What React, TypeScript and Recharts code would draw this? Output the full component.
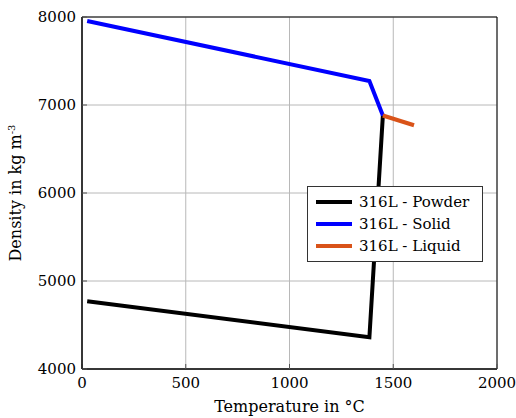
import { LineChart, Line, XAxis, YAxis, CartesianGrid, Legend, ReferenceArea } from "recharts";

// ── Density of 316L vs temperature ────────────────────────────────
const powderT = [25, 1385, 1450];
const powderRho = [4770, 4360, 6881];

const solidT = [25, 1385, 1450];
const solidRho = [7955, 7273, 6881];

const liquidT = [1450, 1600];
const liquidRho = [6881, 6770];

const seriesNames = ["316L - Powder", "316L - Solid", "316L - Liquid"];
const seriesColors = ["#000000", "#0000ff", "#d95319"];

const xTicks = [0, 500, 1000, 1500, 2000];
const yTicks = [4000, 5000, 6000, 7000, 8000];

const toRows = (t: number[], rho: number[]) => t.map((v, i) => ({ t: v, rho: rho[i] }));

const FONT = "'DejaVu Serif', serif";
const GRID = "#b8b8b8";

// legend keeps plot order (Recharts sorts by name otherwise)
const LegendBox = () => (
  <div
    style={{
      border: "1px solid #333",
      background: "#fff",
      padding: "4px 8px",
      fontFamily: FONT,
      fontSize: 15,
      lineHeight: "22px",
      width: 158,
    }}
  >
    {seriesNames.map((name, i) => (
      <div key={name} style={{ display: "flex", alignItems: "center" }}>
        <span style={{ display: "inline-block", width: 36, height: 4, background: seriesColors[i], marginRight: 7 }} />
        {name}
      </div>
    ))}
  </div>
);

export default function App() {
  return (
    <div style={{ position: "absolute", left: 0, top: 0, background: "#fff" }}>
      <LineChart width={516} height={418} margin={{ top: 17, right: 19, bottom: 0, left: 0 }}>
        <CartesianGrid stroke={GRID} strokeWidth={1} />
        <ReferenceArea x1={0} x2={2000} y1={4000} y2={8000} fill="none" stroke="#000" strokeWidth={1} />
        <XAxis
          type="number"
          dataKey="t"
          domain={[0, 2000]}
          ticks={xTicks}
          height={49}
          allowDataOverflow
          axisLine={{ stroke: "#000" }}
          tickLine={{ stroke: "#555" }}
          tickSize={-5}
          tickMargin={13}
          tick={{ fill: "#000", fontFamily: FONT, fontSize: 15 }}
          label={{
            content: ({ viewBox }: any) => (
              <text
                x={viewBox.x + viewBox.width / 2}
                y={viewBox.y + 43}
                textAnchor="middle"
                fontFamily={FONT}
                fontSize={16}
                fill="#000"
              >
                Temperature in °C
              </text>
            ),
          }}
        />
        <XAxis
          xAxisId="top"
          orientation="top"
          type="number"
          domain={[0, 2000]}
          ticks={xTicks}
          height={0}
          axisLine={{ stroke: "#000" }}
          tickLine={{ stroke: "#555" }}
          tickSize={-5}
          tickFormatter={() => ""}
        />
        <YAxis
          type="number"
          domain={[4000, 8000]}
          ticks={yTicks}
          width={82}
          allowDataOverflow
          axisLine={{ stroke: "#000" }}
          tickLine={{ stroke: "#555" }}
          tickSize={-5}
          tickMargin={11}
          tick={{ fill: "#000", fontFamily: FONT, fontSize: 15 }}
          label={{
            content: ({ viewBox }: any) => {
              const cx = viewBox.x + 21;
              const cy = viewBox.y + viewBox.height / 2;
              return (
                <text
                  x={cx}
                  y={cy}
                  transform={`rotate(-90 ${cx} ${cy})`}
                  textAnchor="middle"
                  fontFamily={FONT}
                  fontSize={16}
                  fill="#000"
                >
                  Density in kg m<tspan dy={-6} fontSize={10}>-3</tspan>
                </text>
              );
            },
          }}
        />
        <YAxis
          yAxisId="right"
          orientation="right"
          type="number"
          domain={[4000, 8000]}
          ticks={yTicks}
          width={0}
          axisLine={{ stroke: "#000" }}
          tickLine={{ stroke: "#555" }}
          tickSize={-5}
          tickFormatter={() => ""}
        />
        <Legend
          layout="horizontal"
          verticalAlign="middle"
          align="center"
          wrapperStyle={{ left: 307, top: 186, width: 176 }}
          content={<LegendBox />}
        />
        <Line
          data={toRows(powderT, powderRho)}
          dataKey="rho"
          name={seriesNames[0]}
          stroke={seriesColors[0]}
          strokeWidth={4}
          dot={false}
          strokeLinejoin="miter"
          isAnimationActive={false}
        />
        <Line
          data={toRows(solidT, solidRho)}
          dataKey="rho"
          name={seriesNames[1]}
          stroke={seriesColors[1]}
          strokeWidth={4}
          dot={false}
          strokeLinejoin="miter"
          isAnimationActive={false}
        />
        <Line
          data={toRows(liquidT, liquidRho)}
          dataKey="rho"
          name={seriesNames[2]}
          stroke={seriesColors[2]}
          strokeWidth={4}
          dot={false}
          isAnimationActive={false}
        />
      </LineChart>
    </div>
  );
}
